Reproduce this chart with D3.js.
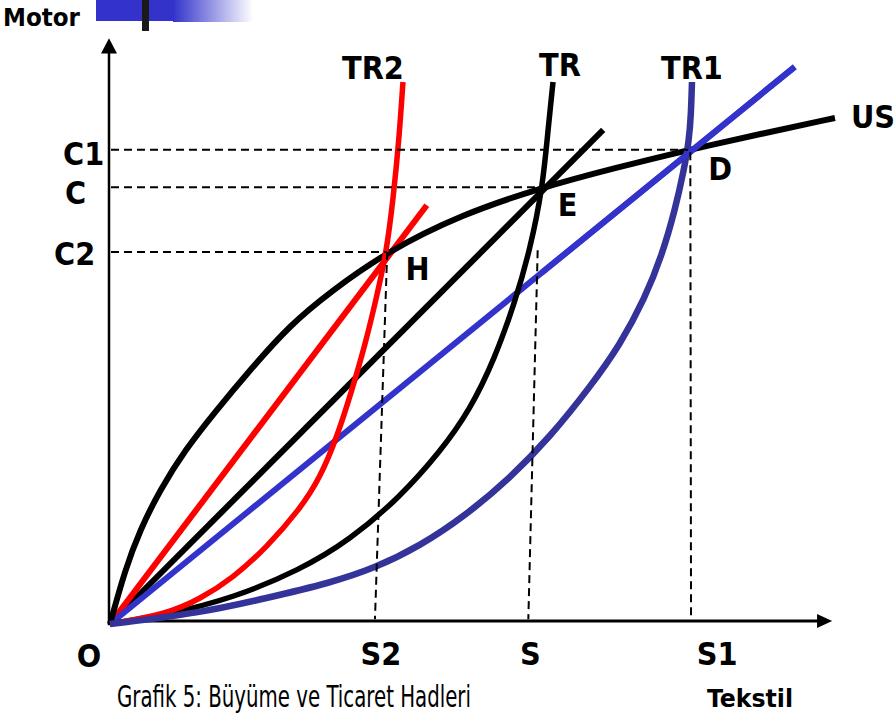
<!DOCTYPE html>
<meta charset="utf-8">
<script src="https://d3js.org/d3.v7.min.js"></script>
<title>Grafik 5: Büyüme ve Ticaret Hadleri</title>
<style>

body { margin: 0; background: #fff; }
svg {
  display: block;
  font-family: "DejaVu Sans Condensed", "DejaVu Sans", sans-serif;
}
.lbl { font-weight: bold; font-size: 32px; }

</style>
<svg width="894" height="718"></svg>
<script>

// textile (x) vs motor (y) (0-100 units)
var usCurve  = [[0,0],[2.08,9.25],[4.17,16.1],[6.94,22.95],[10.42,29.79],[14.58,36.3],[19.44,43.49],[25.0,51.2],[30.56,56.85],[38.4,63.7],[48.61,70.03],[60.1,74.8],[70.14,78.08],[80.28,81.16],[90.28,83.9],[100.69,86.64]];
var trCurve  = [[0,0],[8.33,1.71],[17.08,4.45],[26.39,9.25],[33.33,14.38],[40.28,21.75],[45.83,29.45],[50.0,36.64],[53.47,45.55],[56.25,55.14],[58.33,64.04],[60.1,74.8],[60.83,84.59],[61.53,92.81]];
var tr1Curve = [[0,0],[12.5,1.88],[21.81,4.45],[30.56,7.02],[36.81,9.59],[43.06,13.36],[49.31,18.49],[55.56,24.99],[61.11,32.02],[66.67,40.58],[70.83,47.77],[74.31,55.82],[76.67,63.18],[78.47,70.89],[79.72,77.74],[80.42,82.88],[80.69,87.16],[80.83,92.81]];
var tr2Curve = [[0,0],[7.92,1.71],[12.5,4.28],[17.08,7.88],[21.81,13.18],[26.39,19.69],[29.17,25.0],[31.53,32.02],[33.61,40.07],[35.42,47.77],[36.94,55.48],[38.4,63.7],[39.31,72.6],[40.14,82.88],[40.69,92.81]];

// price lines from the origin: end points
var rayNames = ["black", "red", "blue"];
var rayEnds  = [[68.5,84.6],[44.0,71.7],[95.1,95.4]];

// equilibrium points
var pointNames = ["H", "E", "D"];
var points     = [[38.4,63.7],[60.1,74.8],[80.3,81.2]];

// y tick labels and x tick labels
var yTicks = ["C2", "C", "C1"];
var yTickValues = [63.7, 74.8, 81.2];
var xTicks = ["S2", "S", "S1"];
var xTickTops = [[38.5,63.7],[59.4,64.0],[80.6,80.8]];
var xTickValues = [36.8, 58.1, 80.7];

var svg = d3.select("svg");
var x = d3.scaleLinear().domain([0, 100]).range([110, 830]);
var y = d3.scaleLinear().domain([0, 100]).range([624, 40]);

var line = d3.line()
    .x(d => x(d[0]))
    .y(d => y(d[1]))
    .curve(d3.curveBasis);

// header bar
var defs = svg.append("defs");
var grad = defs.append("linearGradient").attr("id", "fade");
grad.append("stop").attr("offset", "0%").attr("stop-color", "#3333cc");
grad.append("stop").attr("offset", "100%").attr("stop-color", "#3333cc").attr("stop-opacity", 0);
svg.append("rect").attr("x", 96).attr("y", 0).attr("width", 78).attr("height", 21).attr("fill", "#3333cc");
svg.append("rect").attr("x", 173).attr("y", 0).attr("width", 80).attr("height", 22).attr("fill", "url(#fade)");
svg.append("rect").attr("x", 142).attr("y", 0).attr("width", 7).attr("height", 31).attr("fill", "#1a1a1a");

// axes
svg.append("line")
    .attr("x1", x(0) - 1).attr("y1", y(-0.2))
    .attr("x2", x(0) - 1).attr("y2", y(98))
    .attr("stroke", "#000").attr("stroke-width", 2.5);
svg.append("path")
    .attr("d", `M${x(0)-1},${y(100.3)} L${x(0)-9},${y(97.7)} L${x(0)+7},${y(97.7)} Z`)
    .attr("fill", "#000");
svg.append("line")
    .attr("x1", x(0) - 2).attr("y1", y(0.5))
    .attr("x2", x(98.5)).attr("y2", y(0.5))
    .attr("stroke", "#000").attr("stroke-width", 3);
svg.append("path")
    .attr("d", `M${x(100.3)},${y(0.5)} L${x(98.2)},${y(0.5)-7} L${x(98.2)},${y(0.5)+7} Z`)
    .attr("fill", "#000");

// curves
var curves = [
  {data: usCurve,  color: "#000",    w: 6},
  {data: trCurve,  color: "#000",    w: 5.5},
  {data: tr2Curve, color: "#ff0000", w: 5.5},
  {data: tr1Curve, color: "#333399", w: 6.5}
];
var rayColor = {black: "#000", red: "#ff0000", blue: "#3333cc"};

svg.append("g").selectAll("path")
  .data(rayNames)
  .join("path")
    .attr("d", (d, i) => line([[0, 0], rayEnds[i]]))
    .attr("fill", "none")
    .attr("stroke", d => rayColor[d])
    .attr("stroke-width", 6);

svg.append("g").selectAll("path")
  .data(curves)
  .join("path")
    .attr("d", d => line(d.data))
    .attr("fill", "none")
    .attr("stroke", d => d.color)
    .attr("stroke-width", d => d.w);

// redraw blue ray on top of TR1 near D
svg.append("path")
    .attr("d", line([[60, 60 * rayEnds[2][1] / rayEnds[2][0]], rayEnds[2]]))
    .attr("fill", "none").attr("stroke", "#3333cc").attr("stroke-width", 6);

// dashed guides
var dash = svg.append("g")
    .attr("stroke", "#000").attr("stroke-width", 2)
    .attr("stroke-dasharray", "8,5").attr("fill", "none");
dash.selectAll(".h")
  .data(yTickValues)
  .join("line")
    .attr("class", "h")
    .attr("x1", x(0) + 1).attr("x2", (d, i) => x(points[i][0]))
    .attr("y1", d => y(d)).attr("y2", d => y(d));
dash.selectAll(".v")
  .data(xTickValues)
  .join("line")
    .attr("class", "v")
    .attr("x1", (d, i) => x(xTickTops[i][0])).attr("y1", (d, i) => y(xTickTops[i][1]))
    .attr("x2", d => x(d)).attr("y2", y(0.8));

// labels
svg.append("g").selectAll("text")
  .data(yTicks)
  .join("text")
    .attr("class", "lbl")
    .attr("x", (d, i) => x(0) - [56, 45, 47][i])
    .attr("y", (d, i) => y(yTickValues[i]) + [13, 17, 15][i])
    .text(d => d);

svg.append("g").selectAll("text")
  .data(xTicks)
  .join("text")
    .attr("class", "lbl")
    .attr("text-anchor", "middle")
    .attr("x", (d, i) => x(xTickValues[i]) + [6, 2, 26][i])
    .attr("y", 665)
    .text(d => d);

svg.append("text").attr("class", "lbl").attr("text-anchor", "middle")
    .attr("x", x(0) - 21).attr("y", 667).text("O");

svg.append("g").selectAll("text")
  .data(pointNames)
  .join("text")
    .attr("class", "lbl")
    .attr("x", (d, i) => x(points[i][0]) + [19, 15, 20][i])
    .attr("y", (d, i) => y(points[i][1]) + [28, 29, 30][i])
    .text(d => d);

var curveLabels = [["TR2", tr2Curve, -30, -3], ["TR", trCurve, 7, -6], ["TR1", tr1Curve, 0, -3], ["US", usCurve, 38, 10]];
svg.append("g").selectAll("text")
  .data(curveLabels)
  .join("text")
    .attr("class", "lbl")
    .attr("text-anchor", "middle")
    .attr("x", d => x(d[1][d[1].length - 1][0]) + d[2])
    .attr("y", d => y(d[1][d[1].length - 1][1]) + d[3])
    .text(d => d[0]);

svg.append("text").attr("class", "lbl").attr("x", 3).attr("y", 26)
    .style("font-size", "25px")
    .attr("textLength", 77).attr("lengthAdjust", "spacingAndGlyphs")
    .text("Motor");
svg.append("text").attr("class", "lbl").attr("x", 707).attr("y", 707)
    .style("font-size", "25px")
    .attr("textLength", 86).attr("lengthAdjust", "spacingAndGlyphs")
    .text("Tekstil");
svg.append("text").attr("x", 117).attr("y", 707)
    .style("font-size", "30px")
    .attr("textLength", 354).attr("lengthAdjust", "spacingAndGlyphs")
    .text("Grafik 5: Büyüme ve Ticaret Hadleri");

</script>
